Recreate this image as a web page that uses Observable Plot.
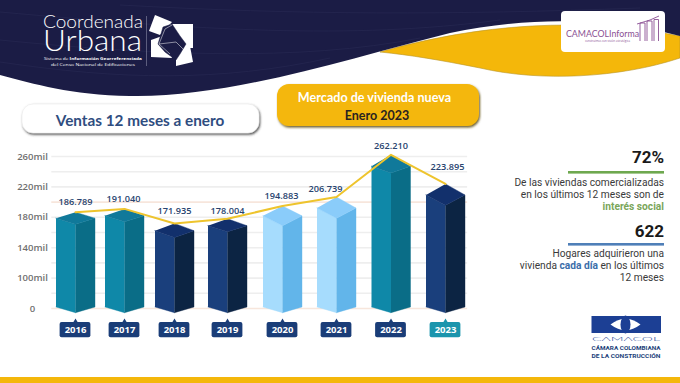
<!DOCTYPE html>
<html lang="es"><head><meta charset="utf-8">
<script src="https://cdn.jsdelivr.net/npm/d3@7"></script>
<script src="https://cdn.jsdelivr.net/npm/@observablehq/plot@0.6"></script>
<style>
html,body{margin:0;padding:0;background:#fff;width:680px;height:383px;overflow:hidden}
#stage{position:relative;width:680px;height:383px;overflow:hidden}
#stage svg{position:absolute;left:0;top:0}
text{font-family:"Open Sans",sans-serif}
.note{font-family:Roboto,sans-serif;font-size:10.200px;fill:#3a3a3a;text-anchor:end}
.big{font-family:Roboto,sans-serif;font-weight:700;font-size:17px;fill:#1a1a1a;text-anchor:end}
</style></head><body>
<div id="stage">
<svg width="680" height="383" viewBox="0 0 680 383" xmlns="http://www.w3.org/2000/svg">
 <defs>
  <filter id="sh1" x="-10%" y="-20%" width="120%" height="150%"><feDropShadow dx="1" dy="1.5" stdDeviation="0.8" flood-color="#333" flood-opacity=".85"/></filter>
  <filter id="sh2" x="-10%" y="-20%" width="120%" height="150%"><feDropShadow dx="1" dy="1.5" stdDeviation="0.8" flood-color="#5a4a10" flood-opacity=".9"/></filter>
 </defs>
 <path d="M380,52 C450,32 560,12 680,36 L680,58 C620,78 540,82 480,68 C440,60 410,55 380,52Z" fill="#f4b70a" stroke="#b8962a" stroke-width=".6"/>
 <path d="M0,0 H680 V36 C610,18 530,16 450,33 C350,58 230,98 130,96 C70,95 35,84 0,75Z" fill="#1b1c45"/>
 <g stroke="#2a2b55" stroke-width=".7" fill="none" opacity=".8">
  <path d="M0,12 C200,30 350,40 500,20"/><path d="M0,40 C150,55 300,62 420,38"/><path d="M120,5 C300,15 450,15 640,8"/><path d="M0,62 C120,80 220,82 330,58"/>
 </g>
 <g fill="#fff">
  <text x="43" y="28" font-size="17" font-weight="300" textLength="100" lengthAdjust="spacingAndGlyphs" style="font-family:Lato">Coordenada</text>
  <text x="43" y="51" font-size="29" font-weight="300" textLength="99" lengthAdjust="spacingAndGlyphs" style="font-family:Lato">Urbana</text>
  <text x="93" y="60" font-size="4" text-anchor="middle" textLength="98" lengthAdjust="spacingAndGlyphs">Sistema de <tspan font-weight="700">Información Georreferenciada</tspan></text>
  <text x="93" y="66" font-size="4" text-anchor="middle" textLength="84" lengthAdjust="spacingAndGlyphs">del Censo Nacional de Edificaciones</text>
 </g>
 <path d="M146.500,16V66" stroke="#8a8aa5" stroke-width=".6"/>
 <g fill="#fff">
  <path d="M155,15 L172,22 L160,35 L149,31Z"/><path d="M170,24 H193 V48 H178Z"/><path d="M151,40 L165,35 L172,58 L151,57Z"/><path d="M176,45 L190,46 L193,62 L176,66Z"/>
 </g>
 <path d="M158,44 L163,27 L172,24 L180,36 L186,44 L180,54 L176,60 L165,52Z" fill="#1b1c45" stroke="#1b1c45" stroke-width=".5"/>
 <path d="M159,44 L165,29 L172,25 M159,44 L176,42 L184,50 M159,44 L170,54" stroke="#fff" stroke-width=".5" fill="none"/>
 <rect x="561" y="11" width="104" height="41" rx="4" fill="#fff"/>
 <text x="566" y="37" font-size="9.800" fill="#8a4f93" style="font-family:Lato" textLength="73" lengthAdjust="spacingAndGlyphs">CAMACOLInforma</text>
 <text x="585" y="41.500" font-size="2.800" fill="#8a4f93">construimos con visión estratégica</text>
 <g fill="none" stroke="#8a4f93" stroke-width=".9">
  <path d="M640,41V23H645V41M647,41V21H652V41M654,41V19.500H658.500V41"/><path d="M637,24L650,20L659,16"/>
 </g>
 <rect x="277" y="84" width="202" height="42" rx="12" fill="#f4b70a" filter="url(#sh2)"/>
 <text x="374.500" y="102" text-anchor="middle" font-size="12.600" font-weight="700" fill="#fff" style="font-family:Lato">Mercado de vivienda nueva</text>
 <text x="377" y="120" text-anchor="middle" font-size="12.500" font-weight="700" fill="#2a2320" style="font-family:Lato">Enero 2023</text>
 <rect x="22" y="104" width="237" height="29" rx="11" fill="#fff" stroke="#e6e6e6" stroke-width=".5" filter="url(#sh1)"/>
 <text x="140" y="125.500" text-anchor="middle" font-size="15.300" font-weight="700" fill="#2f4d80" style="font-family:Lato">Ventas 12 meses a enero</text>

 <text class="big" x="664" y="163">72%</text>
 <rect x="568" y="171" width="96" height="2.600" fill="#6ea84f"/>
 <text class="note" x="664" y="185.500">De las viviendas comercializadas</text>
 <text class="note" x="664" y="197.500">en los últimos 12 meses son de</text>
 <text class="note" x="664" y="209.500" font-weight="700" style="fill:#7aa65a">interés social</text>
 <text class="big" x="664" y="237">622</text>
 <rect x="568" y="243" width="96" height="2.600" fill="#4f7fb8"/>
 <text class="note" x="664" y="257">Hogares adquirieron una</text>
 <text class="note" x="664" y="269">vivienda <tspan font-weight="700" style="fill:#3c6eaa">cada día</tspan> en los últimos</text>
 <text class="note" x="664" y="281">12 meses</text>

 <rect x="591.500" y="316" width="69.500" height="17" fill="#1c3f94"/>
 <path d="M610.500,324.500 Q625.500,313 640.500,324.500 Q625.500,336 610.500,324.500Z" fill="#fff"/>
 <ellipse cx="625.500" cy="324.500" rx="5" ry="9" fill="#1c3f94"/>
 <text x="626" y="340.500" text-anchor="middle" font-size="6.500" fill="#1c3f94" textLength="68" lengthAdjust="spacingAndGlyphs" style="font-family:Lato;font-weight:300">CAMACOL</text>
 <text x="626" y="349.500" text-anchor="middle" font-size="6" font-weight="700" fill="#1c3f7a" textLength="69" lengthAdjust="spacingAndGlyphs" style="font-family:Roboto">CÁMARA COLOMBIANA</text>
 <text x="626" y="357.500" text-anchor="middle" font-size="6" font-weight="700" fill="#1c3f7a" textLength="69" lengthAdjust="spacingAndGlyphs" style="font-family:Roboto">DE LA CONSTRUCCIÓN</text>
 <rect x="0" y="377" width="680" height="6" fill="#f4b70a"/>
</svg>
<div id="chart"></div>
</div>
<script>
// Data
const years = [2016, 2017, 2018, 2019, 2020, 2021, 2022, 2023];
const ventas = [186789, 191040, 171935, 178004, 194883, 206739, 262210, 223895];
const tones = ["teal", "teal", "navy", "navy", "sky", "sky", "teal", "navy"];
const axisTicks = [60000, 100000, 140000, 180000, 220000, 260000];
const gridLines = d3.range(60000, 260001, 20000);

// Layout and styles
const centers = [75, 124, 174, 227, 282, 336, 390.500, 445];
const halfYear = 0.37, halfPx = 19.5;
const faces = {
  teal: {left: "#0f88a8", right: "#0a6d87", top: "#10799a"},
  navy: {left: "#1a3f7c", right: "#0c2443", top: "#12306c"},
  sky:  {left: "#a6dcfd", right: "#62b5ea", top: "#8accfa"}
};
const sideDrop = [8000, 9000, 9500, 9000, 13000, 14500, 15000, 14500];
const frontDrop = [16000, 17000, 18500, 17000, 26000, 28000, 24000, 28000];
const floorSide = 62000, floorFront = 54500;
const labelDx = [0, -1, 0, 0, -1, -11, 0, 2];
const labelDy = [-10.5, -9.5, -12.5, -7.5, -9.5, -7.5, -9, -16.5];
const label = v => d3.format(",")(v).replace(",", ".");
const tickLabel = v => v === 60000 ? "0" : v / 1000 + "mil";

const polygons = years.flatMap((year, i) => {
  const v = ventas[i], f = faces[tones[i]], side = v - sideDrop[i], front = v - frontDrop[i];
  const l = year - halfYear, r = year + halfYear;
  const poly = (face, color, pts) => pts.map(([x, y]) => ({id: year + face, color, x, y}));
  return [
    ...poly("L", f.left, [[l, side], [year, front], [year, floorFront], [l, floorSide]]),
    ...poly("R", f.right, [[year, front], [r, side], [r, floorSide], [year, floorFront]]),
    ...poly("T", f.top, [[year, v], [r, side], [year, front], [l, side]])
  ];
});
const rows = years.map((year, i) => ({year, value: ventas[i], tone: tones[i]}));
const tagFill = d => d.year === 2023 ? "#1b95ad" : "#1a3d78";

const plot = Plot.plot({
  width: 680, height: 383,
  marginTop: 0, marginRight: 0, marginBottom: 0, marginLeft: 0,
  style: {background: "transparent", overflow: "visible"},
  x: {type: "linear", axis: null,
      domain: years.flatMap(y => [y - halfYear, y, y + halfYear]),
      range: centers.flatMap(c => [c - halfPx, c, c + halfPx])},
  y: {axis: null, domain: [60000, 260000], range: [308, 156]},
  color: {type: "identity"},
  marks: [
    Plot.ruleY(gridLines, {x1: 2015.55, x2: 2023.42, strokeWidth: 1.6,
      stroke: d => (d === 60000 || d === 200000) ? "#f7e6dc" : "#eeeeee"}),
    Plot.text(axisTicks, {y: d => d, text: tickLabel, frameAnchor: "left", dx: 32,
      textAnchor: "middle", fontSize: 9.5, fontWeight: 600, fontFamily: "Roboto", fill: "#6f6f6f"}),
    Plot.line(polygons, {x: "x", y: "y", z: "id", fill: "color", stroke: "color", strokeWidth: 0.4}),
    Plot.line(rows, {x: "year", y: "value", stroke: "#eec42d", strokeWidth: 2}),
    ...rows.map((d, i) => Plot.text([d], {x: "year", y: "value", text: r => label(r.value),
      dx: labelDx[i], dy: labelDy[i], fontSize: 9.2, fontWeight: 600, fontFamily: "Roboto", fill: "#29446f"})),
    Plot.dot(rows, {x: "year", y: 42500, symbol: "triangle", r: 2.2, fill: tagFill}),
    Plot.rect(rows, {x1: d => d.year - 0.292, x2: d => d.year + 0.292, y1: 41500, y2: 21500, rx: 2, fill: tagFill}),
    Plot.text(rows, {x: "year", y: 31500, text: d => String(d.year), fontSize: 9.5, fontWeight: 700,
      fontFamily: "Roboto", fill: "#fff"})
  ]
});
document.getElementById("chart").appendChild(plot);
</script>
</body></html>
